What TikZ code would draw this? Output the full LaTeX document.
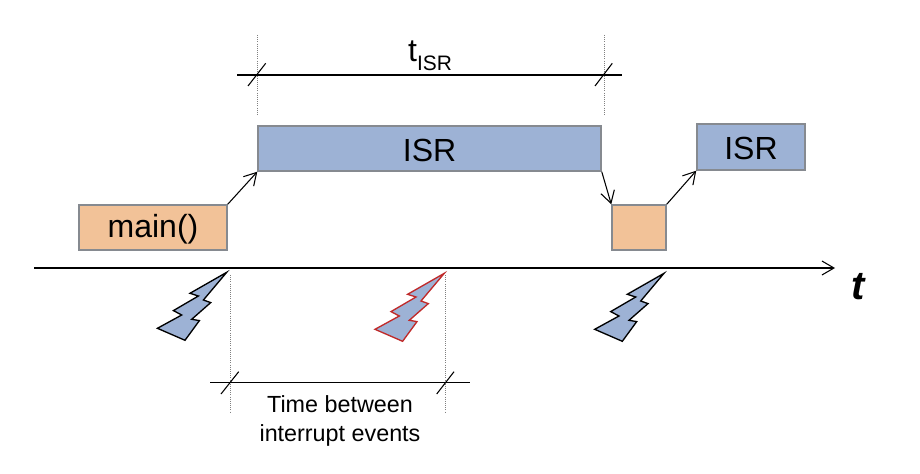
\documentclass[tikz,border=0pt]{standalone}
\usepackage{fontspec}
\setmainfont{Liberation Sans}
\usetikzlibrary{arrows.meta}

\definecolor{isrblue}{HTML}{9DB2D5}
\definecolor{mainorange}{HTML}{F2C298}
\definecolor{boxgrey}{HTML}{868A90}
\definecolor{boltred}{HTML}{C02A2A}

\begin{document}
\begin{tikzpicture}[x=0.75pt, y=-0.75pt, node distance=75pt, >={Straight Barb[length=9pt, width=10.5pt]},
  task/.style={draw=boxgrey, line width=1.1pt, inner sep=0pt, font=\fontsize{24}{28}\selectfont},
  isr/.style={task, fill=isrblue, text height=19.5pt, text depth=0pt},
  mainline/.style={task, fill=mainorange, text height=20pt, text depth=5pt},
  guide/.style={draw=gray, densely dotted, line width=0.6pt},
  dim/.style={line width=0.8pt},
  flow/.style={->, line width=0.8pt},
  label/.style={inner sep=0pt, anchor=base, align=center}]

\def\bolt#1#2{%
  \filldraw[fill=isrblue, draw=#2, line width=1pt, line join=miter, shift={(#1)}]
    (0,0) -- (-36.7,21) -- (-28.3,23.7) -- (-53.3,38.3) -- (-45,42.7) -- (-69.3,56)
    -- (-41.7,68) -- (-27.3,48.3) -- (-35,47) -- (-16,30.3) -- (-23.3,27.7) -- cycle;}

\useasboundingbox (0,0) rectangle (920,474);

  % Tasks
  \node (main) [mainline, minimum width=111pt, minimum height=33.75pt] at (153,227.5) {main()};
  \node (isr1) [isr, right of=main, xshift=132.4pt, yshift=59.25pt, minimum width=257.25pt, minimum height=33.75pt] {ISR};
  \node (back) [mainline, right of=isr1, xshift=82.1pt, yshift=-59.25pt, minimum width=40.5pt, minimum height=33.75pt] {};
  \node (isr2) [isr, right of=back, xshift=9pt, yshift=60.4pt, minimum width=81pt, minimum height=34.5pt] {ISR};

  \draw[flow] (main.north east) -- (isr1.south west);
  \draw[flow] (isr1.south east) -- (back.north west);
  \draw[flow] (back.north east) -- (isr2.south west);

  % Time axis
  \coordinate (axisstart) at (34,268);
  \coordinate (axisend) at (835,268);
  \draw[flow] (axisstart) -- (axisend);
  \node (t) [label, font=\fontsize{30}{30}\selectfont\bfseries\itshape] at (858,299) {t};

  % Interrupt events
  \bolt{226.7,272.3}{black}
  \bolt{444.3,273.3}{boltred}
  \bolt{664,273.3}{black}

  % Duration of the ISR
  \draw[guide] (257.5,35) -- (257.5,115);
  \draw[guide] (604,35) -- (604,115);
  \draw[dim] (237,75) -- (622,75);
  \draw[dim] (248,86) -- (265.7,63.3);
  \draw[dim] (595,86) -- (612.3,63.3);
  \node (tisr) [label, font=\fontsize{24}{28}\selectfont] at (430,61.7) {t\raisebox{-6.75pt}{\fontsize{15.7}{18}\selectfont ISR}};

  % Time between events
  \draw[guide] (230,275) -- (230,412);
  \draw[guide] (445,275) -- (445,412);
  \draw[dim] (210,382.7) -- (470,382.7);
  \draw[dim] (221,394) -- (238.7,371.7);
  \draw[dim] (436.7,394) -- (454,371.7);
  \node (gap) [inner sep=0pt, align=center, font=\fontsize{17.5}{21.75}\selectfont] at (340,421) {Time between\\interrupt events};

\end{tikzpicture}
\end{document}
